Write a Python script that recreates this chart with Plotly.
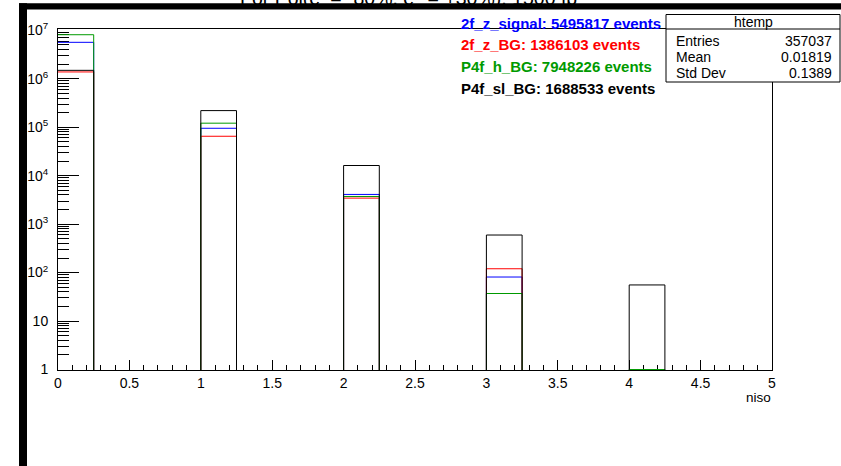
import plotly.graph_objects as go

W, H = 841, 466

# ---------------- data ----------------
bin_edges = [round(0.25 * i, 2) for i in range(21)]   # 20 bins, width 0.25, 0..5
sl_bg     = [1.49e6, 0, 0, 0, 2.2e5, 0, 0, 0, 1.62e4, 0, 0, 0, 596, 0, 0, 0, 55.6, 0, 0, 0]
z_signal  = [5.64e6, 0, 0, 0, 9.5e4, 0, 0, 0, 4.1e3, 0, 0, 0, 81, 0, 0, 0, 0, 0, 0, 0]
z_bg      = [1.38e6, 0, 0, 0, 6.5e4, 0, 0, 0, 3.44e3, 0, 0, 0, 120, 0, 0, 0, 0, 0, 0, 0]
h_bg      = [8.09e6, 0, 0, 0, 1.21e5, 0, 0, 0, 3.72e3, 0, 0, 0, 37, 0, 0, 0, 1, 0, 0, 0]

title_text = "For Pol(e<sup>-</sup> = -80%, e<sup>+</sup> = +30%), 1500 fb<sup>-1</sup>"
legend_labels = ["2f_z_signal: 5495817 events", "2f_z_BG: 1386103 events",
                 "P4f_h_BG: 7948226 events", "P4f_sl_BG: 1688533 events"]
stats_names = ["Entries", "Mean", "Std Dev"]
stats_values = ["357037", "0.01819", "0.1389"]

x_tickvals = [0, 0.5, 1, 1.5, 2, 2.5, 3, 3.5, 4, 4.5, 5]
x_ticktext = ["0", "0.5", "1", "1.5", "2", "2.5", "3", "3.5", "4", "4.5", "5"]
y_tickvals = [1, 10, 1e2, 1e3, 1e4, 1e5, 1e6, 1e7]
y_ticktext = ["1", "10", "10<sup>2</sup>", "10<sup>3</sup>", "10<sup>4</sup>",
              "10<sup>5</sup>", "10<sup>6</sup>", "10<sup>7</sup>"]
y_minor = [m * 10 ** k for k in range(0, 7) for m in range(2, 10)]

BLACK, BLUE, RED, GREEN = "#000000", "#0000ff", "#ff0000", "#009a00"
FONT = "Liberation Sans, Arial, Helvetica, sans-serif"

X0, X1 = 58, 772      # frame left / right (px)
YT, YB = 29.3, 370    # frame top / bottom (px)

def px_x(v):
    return v / W

def px_y(v):
    return 1 - v / H

fig = go.Figure()

def step(counts, color):
    y = [max(c, 1e-3) for c in counts] + [max(counts[-1], 1e-3)]
    fig.add_trace(go.Scatter(x=bin_edges, y=y, mode="lines", line_shape="hv",
                             line=dict(color=color, width=1), hoverinfo="skip",
                             showlegend=False, xaxis="x", yaxis="y"))

step(z_signal, BLUE)
step(z_bg, RED)
step(h_bg, GREEN)
step(sl_bg, BLACK)

# title as a text trace (so the black window bar drawn as a shape can cover it)
fig.add_trace(go.Scatter(x=[240], y=[0], mode="text", text=[title_text],
                         textfont=dict(family=FONT, size=19.5, color="black"),
                         textposition="middle right", hoverinfo="skip",
                         showlegend=False, xaxis="x3", yaxis="y3"))

shapes = [
    dict(type="rect", xref="x3", yref="y3", x0=19, x1=W, y0=3.3, y1=9.5,
         fillcolor="black", line=dict(width=0), layer="above"),
    dict(type="rect", xref="x3", yref="y3", x0=19, x1=27, y0=3.3, y1=H,
         fillcolor="black", line=dict(width=0), layer="above"),
    dict(type="rect", xref="x3", yref="y3", x0=666, x1=840, y0=14.5, y1=82,
         fillcolor="white", line=dict(color="black", width=1), layer="above"),
    dict(type="line", xref="x3", yref="y3", x0=666, x1=840, y0=29, y1=29,
         line=dict(color="black", width=1), layer="above"),
]

annotations = []
leg_colors = [BLUE, RED, GREEN, BLACK]
leg_y = [23.5, 44.5, 66.5, 88]
for lab, col, yy in zip(legend_labels, leg_colors, leg_y):
    annotations.append(dict(xref="x3", yref="y3", x=459, y=yy, xanchor="left", yanchor="middle",
                            text="<b>" + lab + "</b>", showarrow=False,
                            font=dict(family=FONT, size=15, color=col)))
annotations.append(dict(xref="x3", yref="y3", x=753, y=22, xanchor="center", yanchor="middle",
                        text="htemp", showarrow=False, font=dict(family=FONT, size=14, color="black")))
for nm, val, yy in zip(stats_names, stats_values, [41, 57, 73]):
    annotations.append(dict(xref="x3", yref="y3", x=674, y=yy, xanchor="left", yanchor="middle",
                            text=nm, showarrow=False, font=dict(family=FONT, size=14, color="black")))
    annotations.append(dict(xref="x3", yref="y3", x=834, y=yy, xanchor="right", yanchor="middle",
                            text=val, showarrow=False, font=dict(family=FONT, size=14, color="black")))
annotations.append(dict(xref="x3", yref="y3", x=773, y=397, xanchor="right", yanchor="middle",
                        text="niso", showarrow=False, font=dict(family=FONT, size=13.5, color="black")))

fig.update_layout(
    width=W, height=H, autosize=False,
    margin=dict(l=0, r=0, t=0, b=0, pad=0, autoexpand=False),
    paper_bgcolor="white", plot_bgcolor="rgba(0,0,0,0)",
    showlegend=False,
    font=dict(family=FONT, size=14, color="black"),
    xaxis=dict(domain=[px_x(X0), px_x(X1)], range=[0, 5], anchor="y", automargin=False,
               showgrid=False, zeroline=False, showline=True, mirror=True,
               linecolor="black", linewidth=1,
               ticks="inside", ticklen=10, tickwidth=1, tickcolor="black",
               tickmode="array", tickvals=x_tickvals, ticktext=x_ticktext,
               tickfont=dict(family=FONT, size=14, color="black"),
               ticklabelstandoff=0,
               minor=dict(ticks="inside", ticklen=5, tickwidth=1, tickcolor="black",
                          dtick=0.1, tick0=0, showgrid=False),
               layer="below traces"),
    yaxis=dict(domain=[px_y(YB), px_y(YT)], type="log", range=[-0.01, 7.02], anchor="x",
               automargin=False,
               showgrid=False, zeroline=False, showline=True, mirror=True,
               linecolor="black", linewidth=1,
               ticks="inside", ticklen=21, tickwidth=1, tickcolor="black",
               tickmode="array", tickvals=y_tickvals, ticktext=y_ticktext,
               tickfont=dict(family=FONT, size=14, color="black"),
               ticklabelstandoff=6,
               minor=dict(ticks="inside", ticklen=11, tickwidth=1, tickcolor="black",
                          tickmode="array", tickvals=y_minor, showgrid=False),
               layer="below traces"),
    xaxis3=dict(domain=[0, 1], range=[0, W], visible=False, anchor="y3", fixedrange=True,
                automargin=False),
    yaxis3=dict(domain=[0, 1], range=[H, 0], visible=False, anchor="x3", fixedrange=True,
                automargin=False),
    shapes=shapes,
    annotations=annotations,
)

fig.write_html("out.html", config={"displayModeBar": False})
